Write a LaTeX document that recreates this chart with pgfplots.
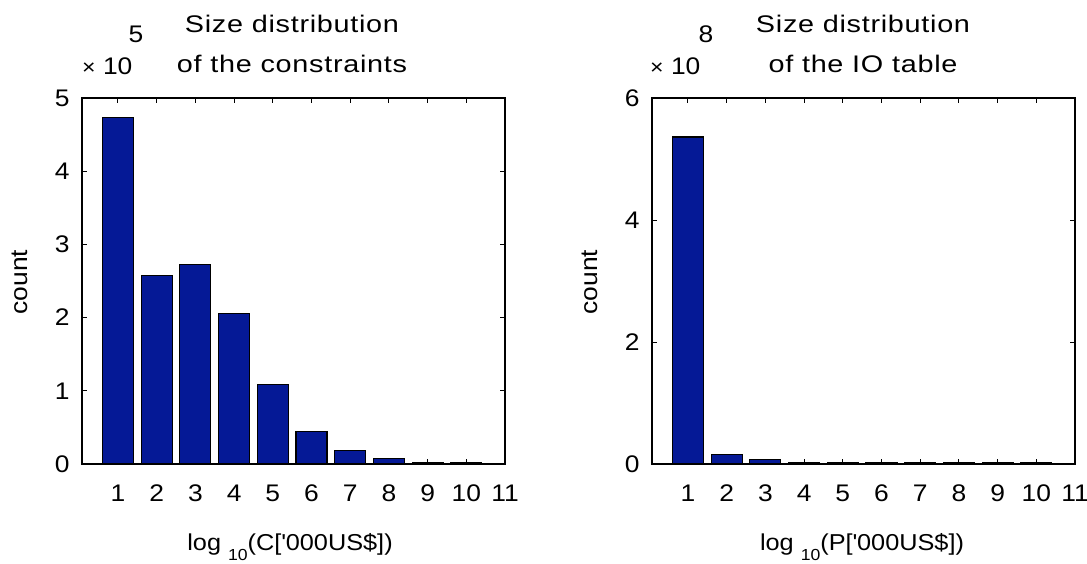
\documentclass[border=0pt]{standalone}
\usepackage{fontspec}
\setmainfont{Liberation Sans}[FakeStretch=1.1]
\newfontfamily\titlefont{Liberation Sans}[FakeStretch=1.2, LetterSpace=3]
\usepackage{pgfplots}
\pgfplotsset{compat=1.18}
\definecolor{barblue}{RGB}{5,25,150}
\newcommand{\fs}{\fontsize{24}{28}\selectfont}
\pgfplotsset{
  myax/.style={
    scale only axis, width=423pt, height=366pt,
    anchor=south west,
    xmin=0.07, xmax=11, ymin=0,
    xtick={1,...,11},
    ybar, bar width=0.8,
    tick align=inside, major tick length=5pt,
    axis line style={line width=1.4pt},
    every tick/.style={black, line width=1pt},
    /pgf/number format/assume math mode=true,
    tick label style={font=\fs},
    xticklabel style={yshift=-17pt},
    yticklabel style={xshift=-9pt},
    clip=true,
  },
  mybar/.style={fill=barblue, draw=black, line width=1.1pt},
}
\begin{document}
\begin{tikzpicture}
\useasboundingbox (0,0) rectangle (1087pt,563pt);
\begin{axis}[myax, at={(82pt,99pt)}, ymax=5, ytick={0,...,5}]
\addplot[mybar] coordinates {(1,4.73) (2,2.57) (3,2.72) (4,2.06) (5,1.09) (6,0.44) (7,0.19) (8,0.07) (9,0.02) (10,0.015) (11,0.012)};
\end{axis}
\begin{axis}[myax, at={(652pt,99pt)}, ymax=6, ytick={0,2,4,6}]
\addplot[mybar] coordinates {(1,5.36) (2,0.15) (3,0.07) (4,0.02) (5,0.02) (6,0.02) (7,0.02) (8,0.02) (9,0.02) (10,0.02)};
\end{axis}
\begin{scope}[every node/.style={font=\fs, inner sep=0pt}]
% left panel
\node[anchor=base, font=\titlefont\fs] at (292pt,530pt) {Size distribution};
\node[anchor=base, font=\titlefont\fs] at (292pt,490pt) {of the constraints};
\node[anchor=base west] at (82pt,488pt) {{\fontsize{21}{21}\selectfont ×} 10};
\node[anchor=base] at (136pt,520pt) {5};
\node[rotate=90, anchor=base] at (27pt,281pt) {count};
\node[anchor=base, font=\fontsize{23}{27}\selectfont] at (290pt,13pt) {log \raisebox{-10pt}{\fontsize{16}{16}\selectfont 10}(C[\textquotesingle 000US\$])};
% right panel
\node[anchor=base, font=\titlefont\fs] at (863pt,530pt) {Size distribution};
\node[anchor=base, font=\titlefont\fs] at (863pt,490pt) {of the IO table};
\node[anchor=base west] at (650pt,488pt) {{\fontsize{21}{21}\selectfont ×} 10};
\node[anchor=base] at (706pt,520pt) {8};
\node[rotate=90, anchor=base] at (597pt,281pt) {count};
\node[anchor=base, font=\fontsize{23}{27}\selectfont] at (862pt,13pt) {log \raisebox{-10pt}{\fontsize{16}{16}\selectfont 10}(P[\textquotesingle 000US\$])};
\end{scope}
\end{tikzpicture}
\end{document}
